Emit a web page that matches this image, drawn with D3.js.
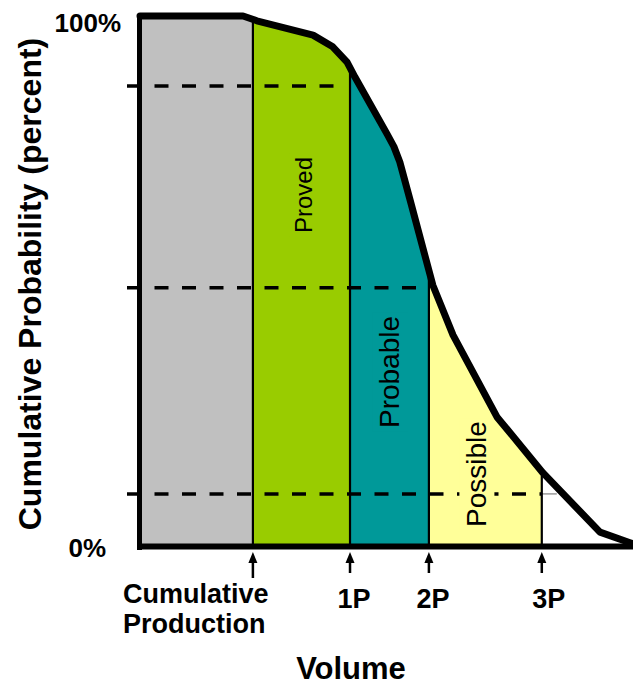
<!DOCTYPE html>
<html><head><meta charset="utf-8">
<script src="https://cdn.jsdelivr.net/npm/d3@7"></script>
<style>html,body{margin:0;padding:0;background:#fff;}svg{display:block;}</style>
</head><body>
<svg id="chart" width="633" height="687"></svg>
<script>
// ---- data (volume in arbitrary units 0-100, probability in percent) ----
const curveVolume = [0, 20.9, 23.7, 35.1, 39.1, 42.0, 43.6, 50.1, 51.5, 52.7, 54.8, 59.4, 63.5, 72.4, 81.7, 93.3, 99.4, 100.6];
const curveProb   = [100, 100, 99.1, 96.4, 94.2, 91.3, 88.5, 77.8, 75.4, 72.5, 65.3, 49.3, 39.9, 24.5, 14.0, 2.8, 0.8, 0.4];
const boundaryNames  = ["Cumulative Production", "1P", "2P", "3P"];
const boundaryVolume = [22.9, 42.6, 58.6, 81.5];
const regionNames  = ["Cumulative", "Proved", "Probable", "Possible"];
const regionColors = ["#c0c0c0", "#99cc00", "#009999", "#ffff99"];
const levelProb = [86.8, 48.8, 10.0];          // P90 / P50 / P10 dashed lines
const levelEndBoundary = [1, 2, 3];             // dashed line runs up to this boundary
const yTickValues = [0, 100];
const yTickLabels = ["0%", "100%"];
const xTitle = "Volume";
const yTitle = "Cumulative Probability (percent)";

const svg = d3.select("#chart");
const FONT = "'Liberation Sans', Arial, Helvetica, sans-serif";
const x = d3.scaleLinear().domain([0, 100]).range([140, 633]);
const y = d3.scaleLinear().domain([0, 100]).range([547, 16]);
const pts = curveVolume.map((v, i) => [v, curveProb[i]]);

// clip = area under the curve
const area = d3.area().x(d => x(d[0])).y0(y(0)).y1(d => y(d[1]));
svg.append("defs").append("clipPath").attr("id", "under")
  .append("path").attr("d", area(pts));

// region fills
const edges = [0].concat(boundaryVolume);
const fills = svg.append("g").attr("clip-path", "url(#under)");
regionColors.forEach((c, i) => {
  fills.append("rect")
    .attr("x", x(edges[i])).attr("width", x(edges[i + 1]) - x(edges[i]))
    .attr("y", 0).attr("height", y(0))
    .attr("fill", c);
});

// dashed probability levels
levelProb.forEach((p, i) => {
  const bi = levelEndBoundary[i];
  const endX = i < 2 ? x(boundaryVolume[bi]) - 10 : x(boundaryVolume[bi]);
  svg.append("line")
    .attr("x1", 127).attr("x2", endX)
    .attr("y1", y(p)).attr("y2", y(p))
    .attr("stroke", "#000").attr("stroke-width", 3.5)
    .attr("stroke-dasharray", "14,13.5");
  if (i === 2) {
    svg.append("line")
      .attr("x1", endX).attr("x2", endX + 15)
      .attr("y1", y(p)).attr("y2", y(p))
      .attr("stroke", "#999").attr("stroke-width", 1.5);
  }
});

// vertical dividers up to the curve
const div = svg.append("g").attr("clip-path", "url(#under)");
boundaryVolume.forEach(b => {
  div.append("line").attr("x1", x(b)).attr("x2", x(b))
    .attr("y1", 0).attr("y2", y(0))
    .attr("stroke", "#000").attr("stroke-width", 2.2);
});

// region labels (rotated), each on a patch of its region colour
const labelPos = [null, [312, 195, 24], [399, 372, 28], [486, 474, 28]];
regionNames.forEach((n, i) => {
  if (!labelPos[i]) return;
  const [bx, cy, fs] = labelPos[i];
  const g = svg.append("g").attr("transform", `translate(${bx},${cy}) rotate(-90)`);
  const bg = g.append("rect").attr("fill", regionColors[i]);
  const t = g.append("text").text(n)
    .attr("text-anchor", "middle")
    .attr("font-family", FONT).attr("font-size", fs).attr("fill", "#000");
  const len = t.node().getComputedTextLength() || fs * 4;
  bg.attr("x", -len / 2 - 3).attr("y", -fs * 0.95).attr("width", len + 6).attr("height", fs * 1.25);
});

// curve
svg.append("path")
  .attr("d", d3.line().x(d => x(d[0])).y(d => y(d[1]))(pts))
  .attr("fill", "none").attr("stroke", "#000").attr("stroke-width", 7)
  .attr("stroke-linejoin", "round").attr("stroke-linecap", "round");

// axes
svg.append("line").attr("x1", 139.5).attr("x2", 139.5).attr("y1", y(100)).attr("y2", y(0) + 3)
  .attr("stroke", "#000").attr("stroke-width", 5);
svg.append("line").attr("x1", 137).attr("x2", 633).attr("y1", y(0) - 0.5).attr("y2", y(0) - 0.5)
  .attr("stroke", "#000").attr("stroke-width", 6);

// y tick labels
yTickValues.forEach((v, i) => {
  svg.append("text").text(yTickLabels[i])
    .attr("x", v === 100 ? 121 : 106).attr("y", y(v) + (v === 100 ? 16 : 10))
    .attr("text-anchor", "end")
    .attr("font-family", FONT).attr("font-weight", "bold").attr("font-size", 26).attr("fill", "#000");
});

// arrows + labels under x axis
boundaryVolume.forEach((b, i) => {
  const bx = x(b);
  const tail = i === 0 ? 578 : 573;
  svg.append("line").attr("x1", bx).attr("x2", bx).attr("y1", 560).attr("y2", tail)
    .attr("stroke", "#000").attr("stroke-width", 2.5);
  svg.append("path").attr("d", `M${bx},552 L${bx - 4.5},563 L${bx + 4.5},563 Z`).attr("fill", "#000");
  if (i === 0) {
    const words = boundaryNames[0].split(" ");
    words.forEach((w, k) => {
      svg.append("text").text(w).attr("x", 123).attr("y", 603 + k * 30)
        .attr("font-family", FONT).attr("font-weight", "bold").attr("font-size", 27).attr("fill", "#000");
    });
  } else {
    svg.append("text").text(boundaryNames[i]).attr("x", bx + (i === 3 ? 7 : 4)).attr("y", 608)
      .attr("text-anchor", "middle")
      .attr("font-family", FONT).attr("font-weight", "bold").attr("font-size", 27).attr("fill", "#000");
  }
});

// axis titles
svg.append("text").text(xTitle).attr("x", 351).attr("y", 679).attr("text-anchor", "middle")
  .attr("font-family", FONT).attr("font-weight", "bold").attr("font-size", 31).attr("fill", "#000");
svg.append("text").text(yTitle)
  .attr("transform", "translate(41,284) rotate(-90)").attr("text-anchor", "middle")
  .attr("font-family", FONT).attr("font-weight", "bold").attr("font-size", 32).attr("fill", "#000");
</script>
</body></html>
